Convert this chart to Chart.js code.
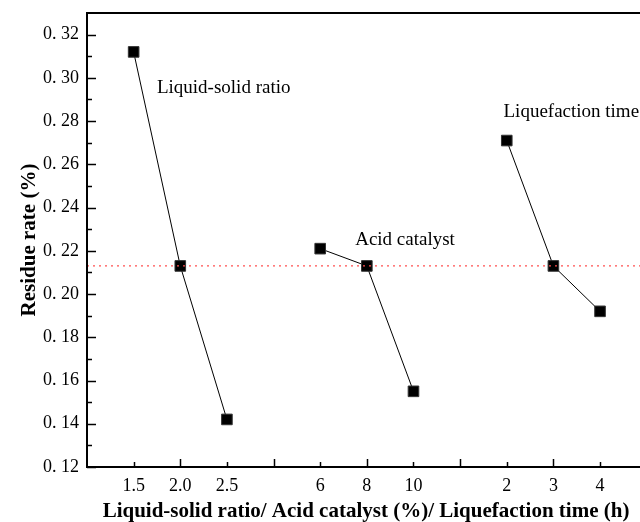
<!DOCTYPE html>
<html><head><meta charset="utf-8">
<script src="https://cdn.jsdelivr.net/npm/chart.js@4"></script>
<style>html,body{margin:0;padding:0;overflow:hidden;background:#fff;width:640px;height:522px}canvas{display:block}</style>
</head><body>
<canvas id="c" width="700" height="522"></canvas>
<script>
const groupNames = ['Liquid-solid ratio', 'Acid catalyst', 'Liquefaction time'];
const lsRatioLabels = ['1.5', '2.0', '2.5'];
const lsRatioValues = [0.312, 0.213, 0.142];
const acidLabels = ['6', '8', '10'];
const acidValues = [0.221, 0.213, 0.155];
const timeLabels = ['2', '3', '4'];
const timeValues = [0.271, 0.213, 0.192];
const meanValue = 0.213;
const yTickValues = [0.12, 0.14, 0.16, 0.18, 0.20, 0.22, 0.24, 0.26, 0.28, 0.30, 0.32];
const yTickLabels = ['0. 12', '0. 14', '0. 16', '0. 18', '0. 20', '0. 22', '0. 24', '0. 26', '0. 28', '0. 30', '0. 32'];
const xTitle = 'Liquid-solid ratio/ Acid catalyst (%)/ Liquefaction time (h)';
const yTitle = 'Residue rate (%)';

const groups = [[lsRatioLabels, lsRatioValues], [acidLabels, acidValues], [timeLabels, timeValues]];
const xLabelBySlot = {};
const datasets = groups.map(([labs, vals], g) => {
  const pts = vals.map((v, i) => {
    const slot = 1 + g * 4 + i;
    xLabelBySlot[slot] = labs[i];
    return { x: slot, y: v };
  });
  return {
    label: groupNames[g], data: pts, borderColor: '#000', borderWidth: 1,
    pointStyle: 'rect', pointRadius: 7.5, pointBackgroundColor: '#000',
    pointBorderColor: '#333', pointBorderWidth: 1, showLine: true, fill: false
  };
});
const X_MIN = 0, X_MAX = 12.5, Y_MIN = 0.12, Y_MAX = 0.33;
datasets.unshift({
  label: 'mean', data: [{ x: X_MIN, y: meanValue }, { x: X_MAX, y: meanValue }],
  borderColor: '#ff5050', borderWidth: 1.2, borderDash: [2, 4], pointRadius: 0, showLine: true, fill: false
});

const annotations = [
  { text: groupNames[0], x: 1.5, y: 0.2932 },
  { text: groupNames[1], x: 5.75, y: 0.2228 },
  { text: groupNames[2], x: 8.93, y: 0.282 }
];

const decor = {
  id: 'decor',
  afterDraw(chart) {
    const { ctx, chartArea: a, scales: { x, y } } = chart;
    ctx.save();
    ctx.strokeStyle = '#000';
    ctx.lineWidth = 1.5;
    for (let k = 0; k <= 20; k++) {
      const v = Y_MIN + k * 0.01;
      const py = Math.round(y.getPixelForValue(v)) + 0.5;
      const len = k % 2 === 0 ? 9 : 5;
      ctx.beginPath(); ctx.moveTo(a.left, py); ctx.lineTo(a.left + len, py); ctx.stroke();
    }
    for (let s = 1; s <= 12; s++) {
      const px = Math.round(x.getPixelForValue(s)) + 0.5;
      const len = s % 2 === 0 ? 8 : 5;
      ctx.beginPath(); ctx.moveTo(px, a.bottom); ctx.lineTo(px, a.bottom - len); ctx.stroke();
    }
    ctx.lineWidth = 2;
    ctx.beginPath();
    ctx.moveTo(a.right, a.top); ctx.lineTo(a.left, a.top); ctx.lineTo(a.left, a.bottom); ctx.lineTo(a.right, a.bottom);
    ctx.stroke();
    ctx.fillStyle = '#000';
    ctx.font = '19px "Liberation Serif"';
    ctx.textAlign = 'left'; ctx.textBaseline = 'alphabetic';
    annotations.forEach(t => ctx.fillText(t.text, x.getPixelForValue(t.x), y.getPixelForValue(t.y)));
    ctx.font = 'bold 21px "Liberation Serif"';
    ctx.textAlign = 'center';
    ctx.fillText(xTitle, 366, 517);
    ctx.translate(35, 240); ctx.rotate(-Math.PI / 2);
    ctx.fillText(yTitle, 0, 0);
    ctx.restore();
  }
};

new Chart(document.getElementById('c'), {
  type: 'scatter',
  data: { datasets },
  plugins: [decor],
  options: {
    responsive: false, animation: false,
    layout: { padding: { top: 13, right: 30, left: 0, bottom: 0 } },
    plugins: { legend: { display: false }, tooltip: { enabled: false } },
    scales: {
      x: {
        type: 'linear', min: X_MIN, max: X_MAX,
        grid: { display: false, drawTicks: false }, border: { display: false },
        afterBuildTicks: s => { s.ticks = [1,2,3,4,5,6,7,8,9,10,11,12].map(v => ({ value: v })); },
        afterFit: s => { s.height = 55; s.paddingLeft = 0; s.paddingRight = 0; },
        ticks: { autoSkip: false, maxRotation: 0, padding: 8, color: '#000',
          font: { family: 'Liberation Serif', size: 18 },
          callback: v => xLabelBySlot[v] || '' }
      },
      y: {
        type: 'linear', min: Y_MIN, max: Y_MAX,
        grid: { display: false, drawTicks: false }, border: { display: false },
        afterBuildTicks: s => { s.ticks = yTickValues.map(v => ({ value: v })); },
        afterFit: s => { s.width = 87; s.paddingTop = 0; s.paddingBottom = 0; },
        ticks: { autoSkip: false, padding: 8, color: '#000',
          font: { family: 'Liberation Serif', size: 18 },
          callback: (v, i) => yTickLabels[i] }
      }
    }
  }
});
</script>
</body></html>
